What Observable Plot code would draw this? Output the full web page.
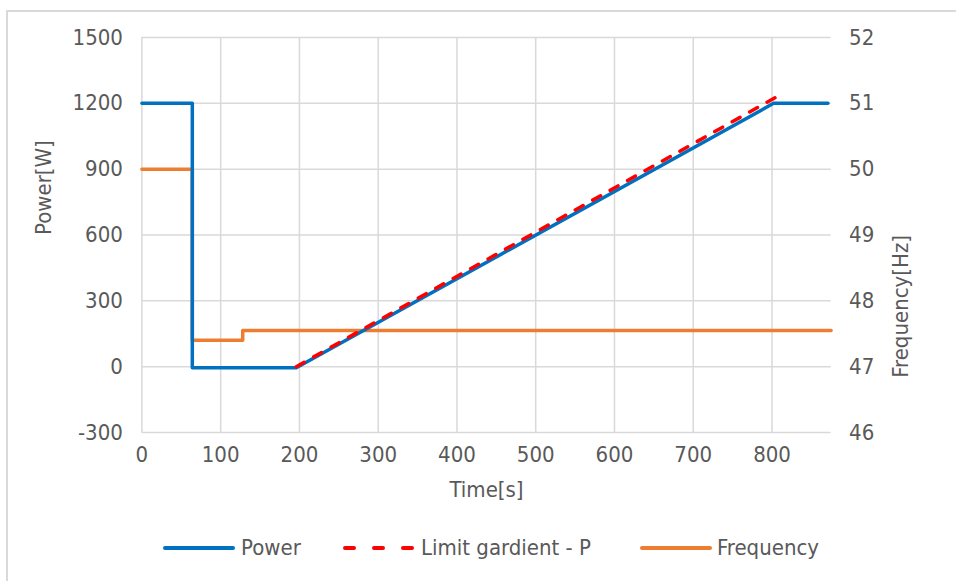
<!DOCTYPE html>
<html>
<head>
<meta charset="utf-8">
<script src="https://cdn.jsdelivr.net/npm/d3@7"></script>
<script src="https://cdn.jsdelivr.net/npm/@observablehq/plot@0.6"></script>
<style>
  html, body { margin: 0; padding: 0; background: #fff; }
  #wrap { position: relative; width: 956px; height: 581px; overflow: hidden; font-family: "Liberation Sans Narrow", "DejaVu Sans Condensed", sans-serif; color: #595959; }
  #border { position: absolute; left: 6px; top: 10px; width: 960px; height: 600px; border-left: 2px solid #d9d9d9; border-top: 2px solid #d9d9d9; }
  #chart { position: absolute; left: 0; top: 0; }
  .leg { position: absolute; top: 548px; transform: translateY(-50%); font-size: 22px; white-space: nowrap; line-height: 1; }
  .sw { position: absolute; top: 548px; }
</style>
</head>
<body>
<div id="wrap">
  <div id="border"></div>
  <div id="chart"></div>
  <div id="legend"></div>
</div>
<script>
// ---- data ----
const powerTime = [0, 64, 64, 196, 802, 871];
const powerW = [1200, 1200, -5, -5, 1200, 1200];

const limitTime = [196, 805];
const limitW = [0, 1228];

const freqTime = [0, 64, 64, 128, 128, 875];
const freqHz = [50, 50, 47.4, 47.4, 47.55, 47.55];

const xTicks = [0, 100, 200, 300, 400, 500, 600, 700, 800];
const powerTicks = [-300, 0, 300, 600, 900, 1200, 1500];
const seriesNames = ["Power", "Limit gardient - P", "Frequency"];
const seriesColors = ["#0070C0", "#FF0000", "#ED7D31"];

// frequency (Hz) shares the power axis: 46 Hz -> -300 W ... 52 Hz -> 1500 W
const f2p = f => (f - 47) * 300;
const p2f = p => p / 300 + 47;

const powerData = powerTime.map((t, i) => ({t, v: powerW[i]}));
const limitData = limitTime.map((t, i) => ({t, v: limitW[i]}));
const freqData = freqTime.map((t, i) => ({t, v: f2p(freqHz[i])}));

const font = "Liberation Sans Narrow, DejaVu Sans Condensed, sans-serif";

const chart = Plot.plot({
  width: 956,
  height: 520,
  marginLeft: 141.4,
  marginRight: 125.4,
  marginTop: 37,
  marginBottom: 88,
  x: {domain: [0, 875]},
  y: {domain: [-300, 1500]},
  style: {fontFamily: font, fontSize: "22px", color: "#595959", background: "transparent"},
  marks: [
    Plot.gridX(xTicks, {stroke: "#d9d9d9", strokeOpacity: 1, strokeWidth: 1.5}),
    Plot.gridY(powerTicks, {stroke: "#d9d9d9", strokeOpacity: 1, strokeWidth: 1.5}),
    Plot.axisX(xTicks, {tickSize: 0, tickPadding: 14, label: null, fontSize: 22, fill: "#595959", tickFormat: d => String(d)}),
    Plot.axisY(powerTicks, {anchor: "left", tickSize: 0, tickPadding: 19, label: null, fontSize: 22, fill: "#595959", tickFormat: d => String(d)}),
    Plot.axisY(powerTicks, {anchor: "right", tickSize: 0, tickPadding: 18, label: null, fontSize: 22, fill: "#595959", tickFormat: d => String(p2f(d))}),
    Plot.text(["Power[W]"], {text: d => d, frameAnchor: "left", dx: -98, rotate: -90, fontSize: 22, fill: "#595959"}),
    Plot.text(["Frequency[Hz]"], {text: d => d, frameAnchor: "right", dx: 70, rotate: -90, fontSize: 22, fill: "#595959"}),
    Plot.text(["Time[s]"], {text: d => d, frameAnchor: "bottom", dy: 64, fontSize: 22, fill: "#595959"}),
    Plot.line(freqData, {x: "t", y: "v", stroke: seriesColors[2], strokeWidth: 3.5}),
    Plot.line(powerData, {x: "t", y: "v", stroke: seriesColors[0], strokeWidth: 3.5}),
    Plot.line(limitData, {x: "t", y: "v", stroke: seriesColors[1], strokeWidth: 3.5, strokeDasharray: "9,11", strokeLinecap: "round"})
  ]
});
document.getElementById("chart").appendChild(chart);

// ---- legend ----
const legendPos = [[163, 241], [343, 421], [640, 717]];
const legend = document.getElementById("legend");
seriesNames.forEach((name, i) => {
  const [sx, tx] = legendPos[i];
  const sw = document.createElementNS("http://www.w3.org/2000/svg", "svg");
  sw.setAttribute("class", "sw");
  sw.setAttribute("width", 74);
  sw.setAttribute("height", 8);
  sw.style.left = (sx - 1) + "px";
  sw.style.top = "544px";
  const ln = document.createElementNS("http://www.w3.org/2000/svg", "line");
  ln.setAttribute("x1", 3); ln.setAttribute("x2", 71);
  ln.setAttribute("y1", 4); ln.setAttribute("y2", 4);
  ln.setAttribute("stroke", seriesColors[i]);
  ln.setAttribute("stroke-width", 4);
  ln.setAttribute("stroke-linecap", "round");
  if (i === 1) ln.setAttribute("stroke-dasharray", "9,20");
  sw.appendChild(ln);
  legend.appendChild(sw);
  const tx_ = document.createElement("div");
  tx_.className = "leg";
  tx_.style.left = tx + "px";
  tx_.textContent = name;
  legend.appendChild(tx_);
});
</script>
</body>
</html>
